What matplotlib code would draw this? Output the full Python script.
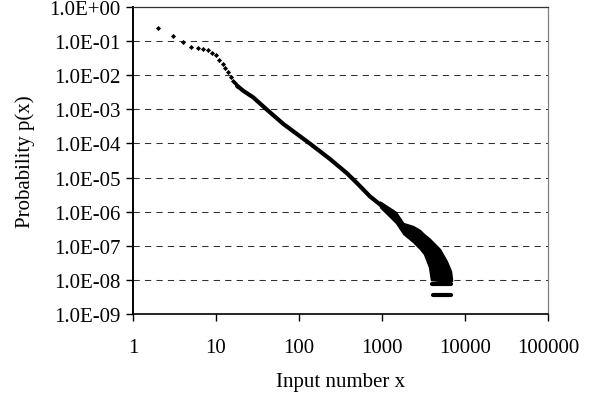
import matplotlib
matplotlib.use("Agg")
import matplotlib.pyplot as plt
from matplotlib.ticker import FixedLocator, FixedFormatter, NullLocator

# separate points for small inputs
x_pts = [2, 3, 4, 5, 6, 7, 8, 9, 10, 11, 12, 13, 14, 15, 16, 17, 18]
p_pts = [0.242, 0.144, 0.092, 0.0686, 0.0616, 0.0586, 0.0537, 0.0457, 0.0383,
         0.0285, 0.0218, 0.0159, 0.0122, 0.0089, 0.0068, 0.0058, 0.0049]

# dense middle section (points merge into a solid band)
x_band = [18, 21.3, 28, 41, 65, 136, 236, 376, 496, 716, 1248, 1806]
p_band = [4.9e-3, 3.5e-3, 2.25e-3, 9.8e-4, 3.7e-4, 9.8e-5, 3.5e-5, 1.35e-5,
          7.0e-6, 2.8e-6, 9.5e-7, 3.5e-7]

# scattered tail: lower / upper extent of the cloud
x_tail = [946, 1248, 1475, 1806, 2363, 2868, 3206, 3683, 3890, 4997, 6025, 6780, 6970]
p_tail_hi = [1.99e-6, 1.28e-6, 9.8e-7, 4.65e-7, 3.80e-7, 2.90e-7, 2.21e-7,
             1.69e-7, 1.48e-7, 8.0e-8, 3.6e-8, 1.82e-8, 1.06e-8]
p_tail_lo = [1.35e-6, 6.97e-7, 4.65e-7, 2.21e-7, 1.29e-7, 8.0e-8, 5.7e-8,
             2.39e-8, 9.9e-9, 9.3e-9, 9.3e-9, 9.3e-9, 9.3e-9]

# lowest counts (two and one occurrence)
lvl_p = [7.6e-9, 3.7e-9]
lvl_x0 = [3950, 4170]
lvl_x1 = [6800, 6800]

x_ticks = [1, 10, 100, 1000, 10000, 100000]
x_labels = ["1", "10", "100", "1000", "10000", "100000"]
y_ticks = [1e0, 1e-1, 1e-2, 1e-3, 1e-4, 1e-5, 1e-6, 1e-7, 1e-8, 1e-9]
y_labels = ["1.0E+00", "1.0E-01", "1.0E-02", "1.0E-03", "1.0E-04",
            "1.0E-05", "1.0E-06", "1.0E-07", "1.0E-08", "1.0E-09"]

plt.rcParams['font.family'] = ['Liberation Serif', 'DejaVu Serif']

fig = plt.figure(figsize=(5.93, 4.06), dpi=100)
ax = fig.add_axes([133 / 593, 1 - 315 / 406, 415 / 593, 307 / 406])

ax.set_xscale('log')
ax.set_yscale('log')
ax.set_xlim(1, 100000)
ax.set_ylim(1e-9, 1)

# dashed horizontal grid
for yv in y_ticks[1:-1]:
    ax.axhline(yv, color='#303030', lw=0.75, ls=(0, (6, 5)), zorder=1)

ax.plot(x_pts, p_pts, ls='none', marker='D', ms=2.6, mfc='black', mec='black',
        mew=0, zorder=3)
ax.plot(x_band, p_band, color='black', lw=3.0, solid_capstyle='round',
        solid_joinstyle='round', zorder=3)
ax.fill_between(x_tail, p_tail_lo, p_tail_hi, color='black', lw=1.0, zorder=3)
for yv, a, b in zip(lvl_p, lvl_x0, lvl_x1):
    ax.plot([a, b], [yv, yv], color='black', lw=3.0, solid_capstyle='round', zorder=3)

ax.xaxis.set_major_locator(FixedLocator(x_ticks))
ax.xaxis.set_major_formatter(FixedFormatter(x_labels))
ax.yaxis.set_major_locator(FixedLocator(y_ticks))
ax.yaxis.set_major_formatter(FixedFormatter(y_labels))
ax.xaxis.set_minor_locator(NullLocator())
ax.yaxis.set_minor_locator(NullLocator())

ax.tick_params(axis='both', direction='out', length=5, width=1, color='black',
               labelsize=15)
ax.tick_params(axis='x', pad=12)
ax.tick_params(axis='y', pad=4)

ax.spines['left'].set_linewidth(1.4)
ax.spines['bottom'].set_linewidth(1.2)
ax.spines['top'].set_linewidth(0.9)
ax.spines['top'].set_color('#303030')
ax.spines['right'].set_linewidth(0.9)
ax.spines['right'].set_color('#808080')

ax.set_xlabel("Input number x", fontsize=15, labelpad=11)
ax.set_ylabel("Probability p(x)", fontsize=15, labelpad=10)

fig.savefig("out.png", dpi=100)
